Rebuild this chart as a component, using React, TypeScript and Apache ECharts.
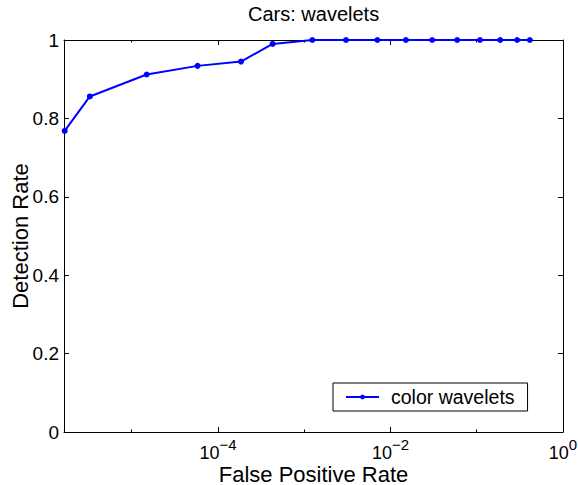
import React, { useEffect, useRef } from 'react';
import * as echarts from 'echarts';

const chartTitle = 'Cars: wavelets';
const xAxisTitle = 'False Positive Rate';
const yAxisTitle = 'Detection Rate';
const seriesName = 'color wavelets';

const falsePositiveRate = [
  1.67e-6, 3.27e-6, 1.49e-5, 5.8e-5, 1.85e-4, 4.3e-4, 1.24e-3, 3.05e-3,
  7.05e-3, 0.0151, 0.0304, 0.0593, 0.109, 0.187, 0.294, 0.413,
];
const detectionRate = [
  0.768, 0.856, 0.912, 0.934, 0.945, 0.99, 1, 1, 1, 1, 1, 1, 1, 1, 1, 1,
];

const xMin = 1.64e-6;
const xMax = 1;
const xMajorExponents = [-4, -2, 0];
const xMinorExponents = [-5, -3, -1];
const yMin = 0;
const yMax = 1;
const yInterval = 0.2;

const FONT = "'Liberation Sans', Arial, Helvetica, sans-serif";

export default function App() {
  const ref = useRef<HTMLDivElement>(null);

  useEffect(() => {
    if (!ref.current) return;
    const chart = echarts.init(ref.current, null, { renderer: 'svg' });
    const lmin = Math.log10(xMin);
    const lmax = Math.log10(xMax);
    const black = '#000';

    const tickAxis = (position: 'bottom' | 'top', values: number[], len: number, showLine: boolean, showLabel: boolean) => ({
      type: 'value',
      position,
      min: lmin,
      max: lmax,
      axisLine: { show: showLine, onZero: false, lineStyle: { color: black, width: 1 } },
      axisTick: { show: true, inside: true, length: len, customValues: values, lineStyle: { color: black, width: 1 } },
      axisLabel: showLabel
        ? {
            show: true,
            customValues: values,
            margin: 5,
            formatter: (v: number) => {
              const e = Math.round(v);
              return `{b|10}{s|${e < 0 ? '\u2212' + -e : e}}`;
            },
            rich: {
              b: { fontSize: 18, lineHeight: 25, fontFamily: FONT, color: black, verticalAlign: 'bottom' },
              s: { fontSize: 15, fontFamily: FONT, color: black, verticalAlign: 'top' },
            },
          }
        : { show: false },
      splitLine: { show: false },
    });

    chart.setOption({
      animation: false,
      backgroundColor: '#fff',
      textStyle: { fontFamily: FONT, color: black },
      title: {
        text: chartTitle,
        left: 248,
        top: 4,
        padding: 0,
        textStyle: { fontSize: 20, fontWeight: 'normal', color: black, fontFamily: FONT },
      },
      grid: { left: 64, right: 15, top: 40, bottom: 53, containLabel: false, outerBoundsMode: 'none' },
      legend: {
        data: [seriesName],
        left: 333,
        top: 383,
        orient: 'horizontal',
        padding: [4, 13, 4, 12],
        borderColor: black,
        borderWidth: 1,
        backgroundColor: '#fff',
        itemWidth: 33,
        itemHeight: 6,
        textStyle: { fontSize: 19.5, color: black, fontFamily: FONT, padding: [0, 0, 0, 7] },
      },
      xAxis: [
        {
          type: 'log',
          logBase: 10,
          position: 'bottom',
          min: xMin,
          max: xMax,
          axisLine: { show: true, onZero: false, lineStyle: { color: black, width: 1 } },
          axisTick: { show: false },
          axisLabel: { show: false },
          splitLine: { show: false },
          minorTick: { show: false },
          name: xAxisTitle,
          nameLocation: 'middle',
          nameGap: 31,
          nameMoveOverlap: false,
          nameTextStyle: { fontSize: 22, color: black, fontFamily: FONT },
        },
        tickAxis('bottom', xMajorExponents, 5, false, true),
        tickAxis('bottom', xMinorExponents, 2.5, false, false),
        tickAxis('top', xMajorExponents, 5, true, false),
        tickAxis('top', xMinorExponents, 2.5, false, false),
      ],
      yAxis: [
        {
          type: 'value',
          position: 'left',
          min: yMin,
          max: yMax,
          interval: yInterval,
          axisLine: { show: true, onZero: false, lineStyle: { color: black, width: 1 } },
          axisTick: { show: true, inside: true, length: 5, lineStyle: { color: black } },
          axisLabel: { show: true, margin: 5, fontSize: 19, color: black, fontFamily: FONT, formatter: (v: number) => String(+v.toFixed(2)) },
          splitLine: { show: false },
          name: yAxisTitle,
          nameLocation: 'middle',
          nameGap: 33,
          nameMoveOverlap: false,
          nameTextStyle: { fontSize: 22, color: black, fontFamily: FONT },
        },
        {
          type: 'value',
          position: 'right',
          min: yMin,
          max: yMax,
          interval: yInterval,
          axisLine: { show: true, onZero: false, lineStyle: { color: black, width: 1 } },
          axisTick: { show: true, inside: true, length: 5, lineStyle: { color: black } },
          axisLabel: { show: false },
          splitLine: { show: false },
        },
      ],
      series: [
        {
          name: seriesName,
          type: 'line',
          xAxisIndex: 0,
          yAxisIndex: 0,
          data: falsePositiveRate.map((x, i) => [x, detectionRate[i]]),
          symbol: 'circle',
          symbolSize: 6,
          showSymbol: true,
          clip: false,
          color: '#0000ff',
          lineStyle: { color: '#0000ff', width: 2 },
          itemStyle: { color: '#0000ff' },
        },
      ],
    });
    return () => chart.dispose();
  }, []);

  return <div ref={ref} style={{ position: 'absolute', left: 0, top: 0, width: 578, height: 485 }} />;
}
